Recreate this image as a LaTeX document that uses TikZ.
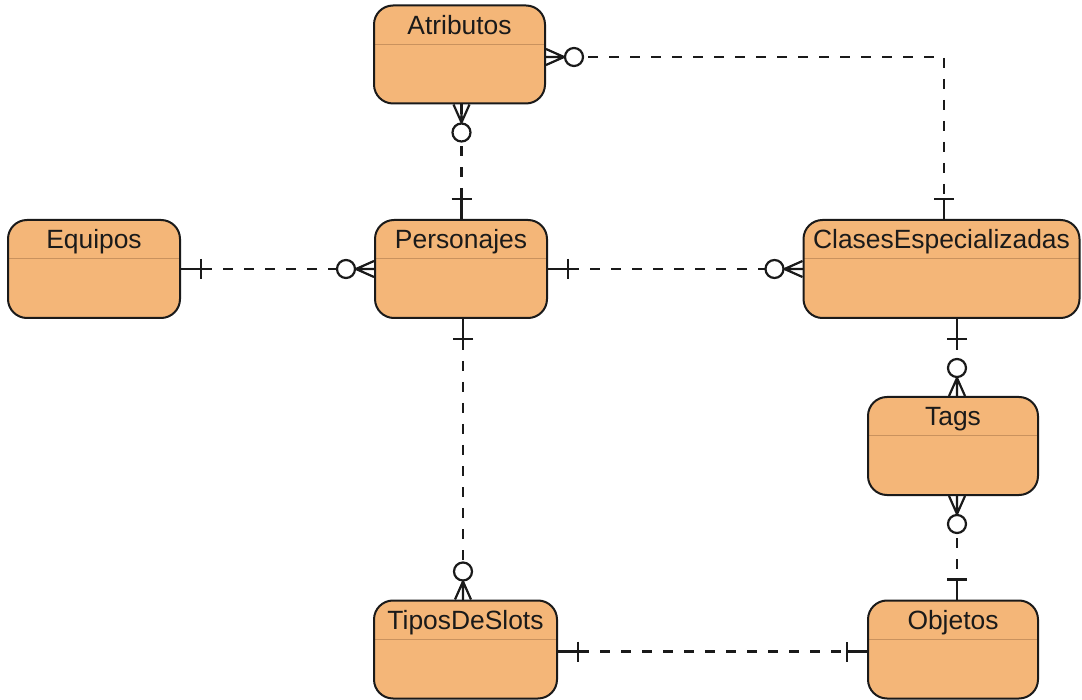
\documentclass[tikz,border=0pt]{standalone}
\usepackage{fontspec}
\setmainfont{Liberation Sans}
\definecolor{entfill}{HTML}{F4B678}
\definecolor{entsep}{HTML}{C9925E}
\definecolor{ink}{HTML}{1A1A1A}
\begin{document}
\begin{tikzpicture}[x=1pt,y=-1pt,
  entity/.style={draw=ink, fill=entfill, line width=2pt, rounded corners=19pt,
    inner sep=0pt, text height=29pt, text depth=69pt, minimum height=97pt,
    font=\fontsize{26.4}{30}\selectfont, text=ink,
    path picture={\draw[entsep, line width=1pt]
      ([yshift=-39pt]path picture bounding box.north west) --
      ([yshift=-39pt]path picture bounding box.north east);}},
  rel/.style={draw=ink, line width=2.3pt, dash pattern=on 10pt off 11pt},
  one/.pic={\draw[ink, line width=2.3pt, solid] (0,0) -- (20,0) (20,-10) -- (20,10);},
  many/.pic={\draw[ink, line width=2.2pt, solid] (0,-8) -- (18,0) -- (0,8) (0,0) -- (18,0);
             \draw[ink, line width=2.2pt, solid, fill=white] (28,0) circle[radius=9];}
]
\useasboundingbox (0,0) rectangle (1082,700);

\node[entity, minimum width=171pt] (atr) at (459.5,54.5) {Atributos};
\node[entity, minimum width=172pt] (equ) at (94,269) {Equipos};
\node[entity, minimum width=172pt] (per) at (461,269) {Personajes};
\node[entity, minimum width=276pt] (cls) at (941.5,269) {ClasesEspecializadas};
\node[entity, minimum width=170pt] (tag) at (953,446) {Tags};
\node[entity, minimum width=183pt] (tip) at (465.5,649.5) {TiposDeSlots};
\node[entity, minimum width=170pt] (obj) at (953,649.5) {Objetos};

\coordinate (ae) at ([yshift=-2.5pt]atr.east);
\coordinate (cn) at ([xshift=2.5pt]cls.north);
\coordinate (tx) at ([xshift=4pt]tag.north);
\coordinate (tb) at ([xshift=4pt]tag.south);

% Atributos - ClasesEspecializadas
\draw[rel] (ae) -| (cn);
\pic at (ae) {many};
\pic[rotate=90] at (cn) {one};

% Atributos - Personajes
\draw[rel] ([xshift=2pt]atr.south) -- ([xshift=2pt]atr.south |- per.north);
\pic[rotate=-90] at ([xshift=2pt]atr.south) {many};
\pic[rotate=90] at ([xshift=2pt]atr.south |- per.north) {one};

% Equipos - Personajes
\draw[rel] (equ.east) -- (per.west);
\pic at (equ.east) {one};
\pic[rotate=180] at (per.west) {many};

% Personajes - ClasesEspecializadas
\draw[rel] (per.east) -- (cls.west);
\pic at (per.east) {one};
\pic[rotate=180] at (cls.west) {many};

% Personajes - TiposDeSlots
\draw[rel] ([xshift=2pt]per.south) -- ([xshift=2pt]per.south |- tip.north);
\pic[rotate=-90] at ([xshift=2pt]per.south) {one};
\pic[rotate=90] at ([xshift=2pt]per.south |- tip.north) {many};

% ClasesEspecializadas - Tags
\draw[rel] (tx |- cls.south) -- (tx);
\pic[rotate=-90] at (tx |- cls.south) {one};
\pic[rotate=90] at (tx) {many};

% Tags - Objetos
\draw[rel] (tb) -- (tb |- obj.north);
\pic[rotate=-90] at (tb) {many};
\pic[rotate=90] at (tb |- obj.north) {one};

% TiposDeSlots - Objetos
\draw[rel] ([yshift=-2pt]tip.east) -- ([yshift=-2pt]obj.west);
\pic at ([yshift=-2pt]tip.east) {one};
\pic[rotate=180] at ([yshift=-2pt]obj.west) {one};
\end{tikzpicture}
\end{document}
